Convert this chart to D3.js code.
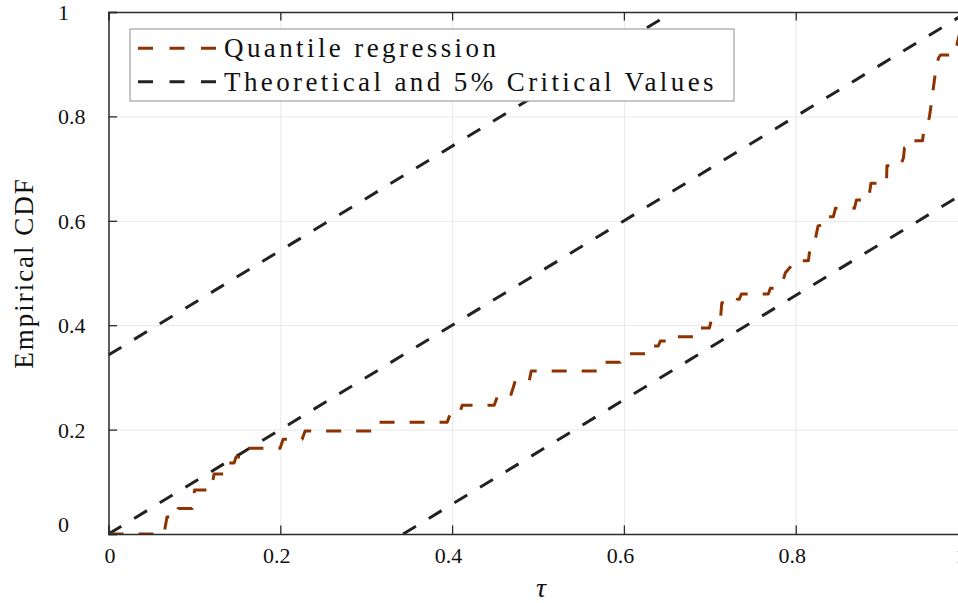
<!DOCTYPE html>
<html>
<head>
<meta charset="utf-8">
<script src="https://cdn.jsdelivr.net/npm/d3@7"></script>
<style>
  html, body { margin: 0; padding: 0; background: #ffffff; }
  svg { display: block; }
  text { font-family: "Liberation Serif", "Times New Roman", serif; }
</style>
</head>
<body>
<div id="chart"></div>
<script>
// ---------------- data ----------------
const tau = [0,0.0646,0.0681,0.0786,0.0810,0.0973,0.1002,0.1194,0.1229,0.1345,0.1374,0.1462,0.1485,0.1567,0.1596,0.1998,0.2033,0.2254,0.2289,0.3069,0.3098,0.3943,0.3978,0.4083,0.4118,0.4490,0.4525,0.4677,0.4735,0.4898,0.4921,0.5737,0.5772,0.5958,0.6005,0.6261,0.6284,0.6401,0.6424,0.6517,0.6540,0.6855,0.6878,0.6995,0.7018,0.7123,0.7140,0.7309,0.7321,0.7344,0.7368,0.7682,0.7705,0.7775,0.7845,0.7880,0.7958,0.7985,0.8148,0.8160,0.8230,0.8260,0.8334,0.8340,0.8439,0.8462,0.8684,0.8707,0.8847,0.8876,0.9057,0.9062,0.9220,0.9255,0.9266,0.9348,0.9371,0.9476,0.9488,0.9522,0.9557,0.9592,0.9627,0.9662,0.9686,0.9802,0.9814,0.9860,0.9884,0.9918];
const empiricalCDF = [0,0,0.0326,0.0326,0.0489,0.0489,0.0843,0.0843,0.1149,0.1149,0.1360,0.1360,0.1475,0.1475,0.1642,0.1642,0.1814,0.1814,0.1973,0.1973,0.2140,0.2140,0.2299,0.2299,0.2466,0.2466,0.2625,0.2625,0.2931,0.2931,0.3123,0.3123,0.3289,0.3289,0.3454,0.3454,0.3602,0.3602,0.3697,0.3697,0.3780,0.3780,0.3946,0.3946,0.4100,0.4100,0.4431,0.4431,0.4496,0.4496,0.4598,0.4598,0.4707,0.4707,0.4808,0.5006,0.5153,0.5236,0.5236,0.5389,0.5660,0.5900,0.5939,0.6079,0.6079,0.6239,0.6239,0.6398,0.6398,0.6718,0.6718,0.7056,0.7056,0.7209,0.7395,0.7395,0.7534,0.7534,0.7682,0.7778,0.7989,0.8410,0.8851,0.9119,0.9176,0.9176,0.9243,0.9243,0.9425,0.9655];
const criticalValue = 0.343;          // 5% band half-width
const xTicks = [0, 0.2, 0.4, 0.6, 0.8, 1];
const xTickLabels = ["0", "0.2", "0.4", "0.6", "0.8", "1"];
const yTicks = [0, 0.2, 0.4, 0.6, 0.8, 1];
const yTickLabels = ["0", "0.2", "0.4", "0.6", "0.8", "1"];
const legendLabels = ["Quantile regression", "Theoretical and 5% Critical Values"];
const xLabel = "τ";
const yLabel = "Empirical CDF";

// ---------------- layout ----------------
const W = 958, H = 603;
const L = 108.5, R = 967.5, T = 12, B = 534;
const orange = "#8c3300", black = "#222222";
const serif = "Liberation Serif, Times New Roman, serif";

const svg = d3.select("#chart").append("svg")
  .attr("width", W).attr("height", H)
  .attr("viewBox", `0 0 ${W} ${H}`);
svg.append("rect").attr("width", W).attr("height", H).attr("fill", "#fff");

const x = d3.scaleLinear().domain([0, 1]).range([L, R]);
const y = d3.scaleLinear().domain([0, 1]).range([B, T]);

// grid
const grid = svg.append("g");
grid.append("g").attr("transform", `translate(0,${B})`)
  .call(d3.axisBottom(x).tickValues(xTicks).tickSize(-(B - T)).tickFormat(""))
  .call(g => g.select(".domain").remove())
  .call(g => g.selectAll("line").attr("stroke", "#e8e8e8").attr("stroke-width", 1));
grid.append("g").attr("transform", `translate(${L},0)`)
  .call(d3.axisLeft(y).tickValues(yTicks).tickSize(-(R - L)).tickFormat(""))
  .call(g => g.select(".domain").remove())
  .call(g => g.selectAll("line").attr("stroke", "#e8e8e8").attr("stroke-width", 1));

// clip
svg.append("clipPath").attr("id", "plotclip")
  .append("rect").attr("x", L).attr("y", T).attr("width", R - L).attr("height", B - T);
const plot = svg.append("g").attr("clip-path", "url(#plotclip)");

const line = d3.line().x(d => x(d[0])).y(d => y(d[1]));
const c = criticalValue;
const theoLines = [
  [[0, c], [1 - c, 1]],
  [[0, 0], [1, 1]],
  [[c, 0], [1, 1 - c]]
];
plot.selectAll(".theo").data(theoLines).enter().append("path")
  .attr("d", line).attr("fill", "none").attr("stroke", black)
  .attr("stroke-width", 3).attr("stroke-dasharray", "15,15");

const qr = tau.map((t, i) => [t, empiricalCDF[i]]);
plot.append("path").datum(qr).attr("d", line)
  .attr("fill", "none").attr("stroke", orange).attr("stroke-width", 3)
  .attr("stroke-dasharray", "15,15").attr("stroke-linejoin", "round");

// axes box and ticks
const axisColor = "#2b2b2b";
const tickLen = 8.6;
const gx = svg.append("g").attr("transform", `translate(0,${B})`)
  .call(d3.axisBottom(x).tickValues(xTicks).tickSize(-tickLen).tickPadding(13)
    .tickFormat((d, i) => xTickLabels[i]));
const gxTop = svg.append("g").attr("transform", `translate(0,${T})`)
  .call(d3.axisTop(x).tickValues(xTicks).tickSize(-tickLen).tickFormat(""));
const gy = svg.append("g").attr("transform", `translate(${L},0)`)
  .call(d3.axisLeft(y).tickValues(yTicks).tickSize(-tickLen).tickFormat((d, i) => yTickLabels[i]));
const gyR = svg.append("g").attr("transform", `translate(${R},0)`)
  .call(d3.axisRight(y).tickValues(yTicks).tickSize(-tickLen).tickFormat(""));
[gx, gxTop, gy, gyR].forEach(g => {
  g.select(".domain").attr("stroke", axisColor).attr("stroke-width", 1.5);
  g.selectAll(".tick line").attr("stroke", axisColor).attr("stroke-width", 1.3);
});
gx.selectAll(".tick text").style("font-family", serif).attr("font-size", 22)
  .attr("fill", "#111").attr("dx", (d, i) => i === xTicks.length - 1 ? -7 : (i === 0 ? 1 : -4));
gy.selectAll(".tick text").style("font-family", serif).attr("font-size", 22)
  .attr("fill", "#111").attr("text-anchor", "start").attr("x", 58 - L)
  .attr("dy", (d, i) => i === 0 ? "-0.12em" : "0.34em");

// axis labels
svg.append("text").attr("x", (L + R) / 2 + 3).attr("y", 597)
  .attr("text-anchor", "middle").style("font-family", serif)
  .attr("font-style", "italic").attr("font-size", 28).attr("fill", "#111").text(xLabel);
svg.append("text").attr("transform", `translate(33,${(T + B) / 2}) rotate(-90)`)
  .attr("text-anchor", "middle").style("font-family", serif)
  .attr("font-size", 27).attr("letter-spacing", 2).attr("fill", "#111").text(yLabel);

// legend
const lg = svg.append("g");
lg.append("rect").attr("x", 130).attr("y", 29).attr("width", 604).attr("height", 72)
  .attr("fill", "#fff").attr("stroke", "#a0a0a0").attr("stroke-width", 1.2);
const legendColors = [orange, black];
const legendY = [48.3, 81.7];
legendLabels.forEach((lab, i) => {
  lg.append("line").attr("x1", 138).attr("x2", 219).attr("y1", legendY[i]).attr("y2", legendY[i])
    .attr("stroke", legendColors[i]).attr("stroke-width", 3).attr("stroke-dasharray", "15,16.5");
  lg.append("text").attr("x", 224).attr("y", legendY[i] + 9)
    .style("font-family", serif).attr("font-size", 27).attr("letter-spacing", 3.4)
    .attr("fill", "#111").text(lab);
});
</script>
</body>
</html>
